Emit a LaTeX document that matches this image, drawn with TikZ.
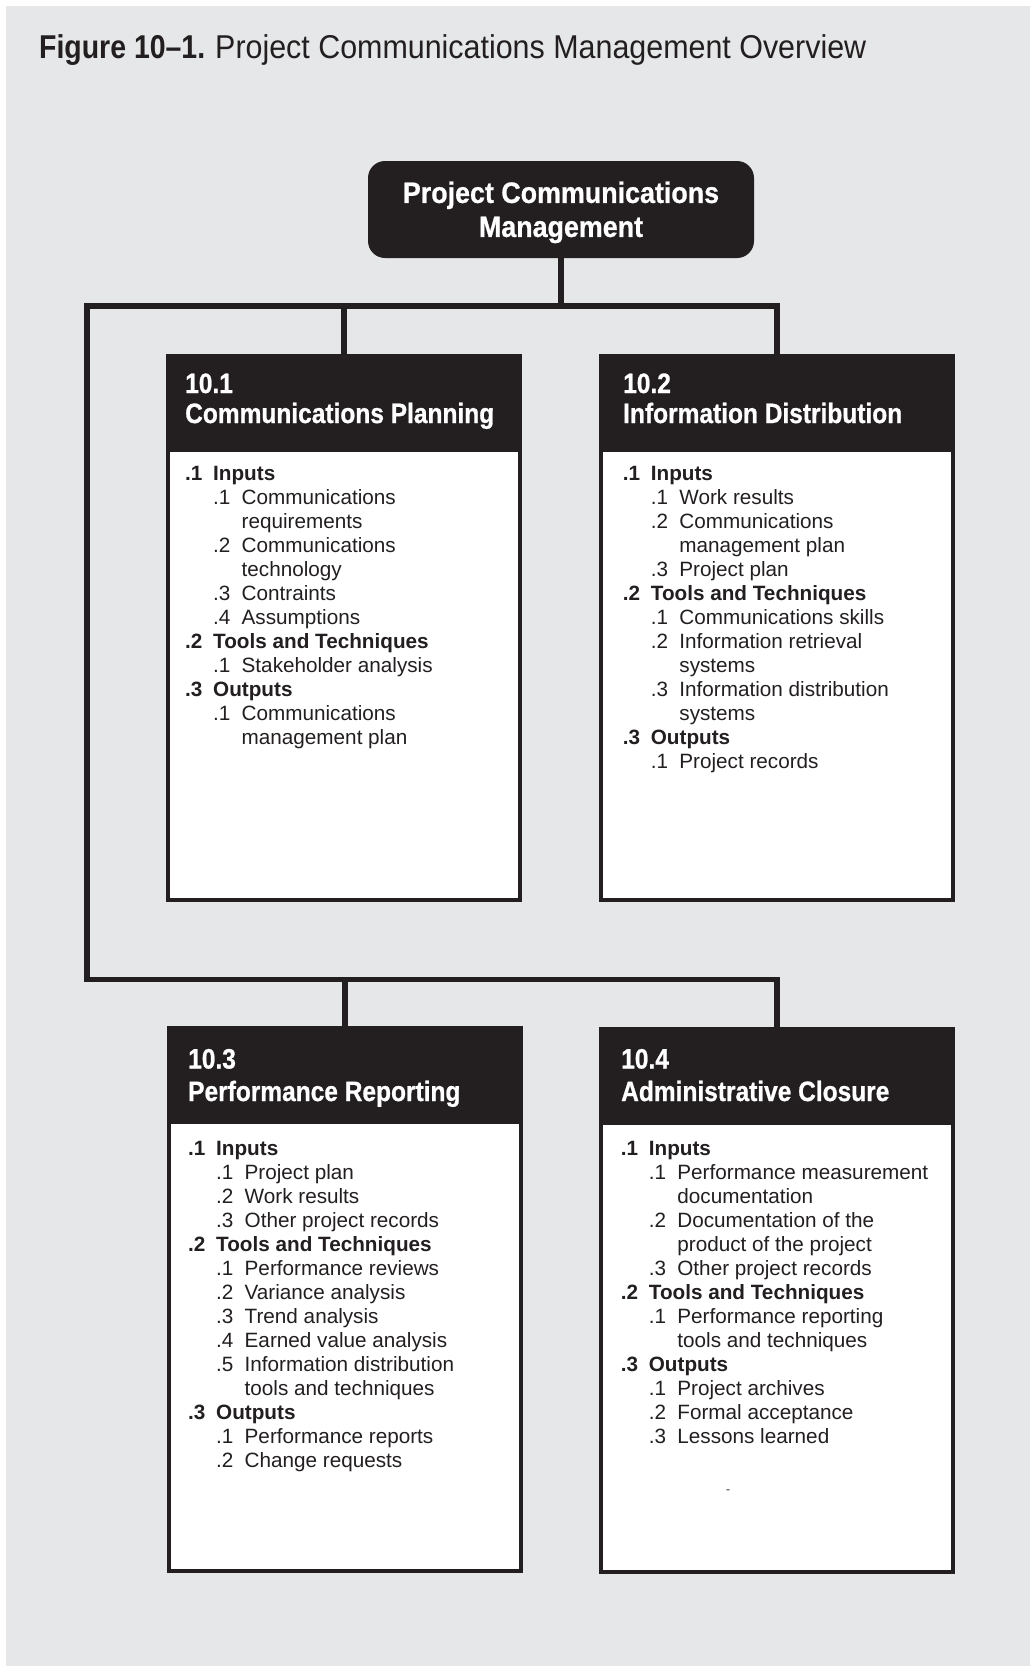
\documentclass[tikz,border=0pt]{standalone}
\usepackage{fontspec}
\setmainfont{Liberation Sans}
\newfontfamily\headfont[FakeStretch=0.875,FakeBold=0.8]{Liberation Sans}
\newfontfamily\topfont[FakeStretch=0.91,FakeBold=0.8]{Liberation Sans}
\newfontfamily\titlebold[FakeStretch=0.862]{Liberation Sans}
\newfontfamily\titlereg[FakeStretch=0.922]{Liberation Sans}
\definecolor{ink}{HTML}{231F20}
\definecolor{bg}{HTML}{E6E7E8}
\newcommand\lvlA[2]{\makebox[28pt][l]{\bfseries #1}{\bfseries #2}\par}
\newcommand\lvlB[2]{\hspace*{28pt}\makebox[28.5pt][l]{#1}#2\par}
\newcommand\lvlC[1]{\hspace*{56.5pt}#1\par}
\tikzset{
  conn/.style={draw=ink, line width=5.5pt, line join=miter},
  topbox/.style={rounded corners=17pt, fill=ink, minimum width=386pt, minimum height=97pt,
     inner sep=0pt, text=white, align=center,
     font=\topfont\bfseries\fontsize{29.5}{34}\selectfont},
  box/.style={draw=ink, line width=4pt, fill=white, anchor=north west,
     minimum width=352pt, inner sep=0pt,
     path picture={\fill[ink] ([yshift=4pt]path picture bounding box.north west) rectangle
        ([yshift=-96pt]path picture bounding box.north east);}},
  head/.style={anchor=base west, inner sep=0pt, text=white,
     font=\headfont\bfseries\fontsize{28}{30}\selectfont},
  body/.style={anchor=base west, inner sep=0pt, text=ink,
     font=\fontsize{20.7}{24}\selectfont},
}
\begin{document}
\begin{tikzpicture}[x=1pt,y=-1pt]
\useasboundingbox (0,0) rectangle (1030,1666);
\fill[white] (0,0) rectangle (1030,1666);
\fill[bg] (6,6) rectangle (1030,1666);

\node[anchor=base west, inner sep=0pt, text=ink] (title) at (39,58)
  {{\titlebold\bfseries\fontsize{33}{36}\selectfont Figure 10–1.}\hspace{10pt}{\titlereg\fontsize{33}{36}\selectfont Project Communications Management Overview}};

\node[topbox] (top) at (561,209.5) {\rule{0pt}{27.1pt}Project Communications\\Management};

\node[box, minimum height=544pt] (b1) at (166,354) {};
\node[box, minimum height=544pt] (b2) at (599,354) {};
\node[box, minimum height=543pt] (b3) at (167,1026) {};
\node[box, minimum height=543pt] (b4) at (599,1027) {};

\coordinate (jl) at (87,306);
\coordinate (kl) at (87,979.5);
\draw[conn] (top.south) -- (top.south |- jl);
\draw[conn] (b2.north) |- (jl) -- (kl) -| (b4.north);
\draw[conn] (b1.north) -- (b1.north |- jl);
\draw[conn] (b3.north) -- (b3.north |- kl);

\node[head] (h1) at (185,393) {\parbox[t]{330pt}{10.1\par Communications Planning}};
\node[head] (h2) at (623,393) {\parbox[t]{330pt}{10.2\par Information Distribution}};
\node[head] (h3) at (188,1068.5) {\parbox[t]{330pt}{\fontsize{28}{32.5}\selectfont 10.3\par Performance Reporting}};
\node[head] (h4) at (621,1068.5) {\parbox[t]{330pt}{\fontsize{28}{32.5}\selectfont 10.4\par Administrative Closure}};

\node[body] (t1) at (185,480) {\parbox[t]{330pt}{%
\lvlA{.1}{Inputs}
\lvlB{.1}{Communications}
\lvlC{requirements}
\lvlB{.2}{Communications}
\lvlC{technology}
\lvlB{.3}{Contraints}
\lvlB{.4}{Assumptions}
\lvlA{.2}{Tools and Techniques}
\lvlB{.1}{Stakeholder analysis}
\lvlA{.3}{Outputs}
\lvlB{.1}{Communications}
\lvlC{management plan}}};

\node[body] (t2) at (622.7,480) {\parbox[t]{330pt}{%
\lvlA{.1}{Inputs}
\lvlB{.1}{Work results}
\lvlB{.2}{Communications}
\lvlC{management plan}
\lvlB{.3}{Project plan}
\lvlA{.2}{Tools and Techniques}
\lvlB{.1}{Communications skills}
\lvlB{.2}{Information retrieval}
\lvlC{systems}
\lvlB{.3}{Information distribution}
\lvlC{systems}
\lvlA{.3}{Outputs}
\lvlB{.1}{Project records}}};

\node[body] (t3) at (188,1155) {\parbox[t]{330pt}{%
\lvlA{.1}{Inputs}
\lvlB{.1}{Project plan}
\lvlB{.2}{Work results}
\lvlB{.3}{Other project records}
\lvlA{.2}{Tools and Techniques}
\lvlB{.1}{Performance reviews}
\lvlB{.2}{Variance analysis}
\lvlB{.3}{Trend analysis}
\lvlB{.4}{Earned value analysis}
\lvlB{.5}{Information distribution}
\lvlC{tools and techniques}
\lvlA{.3}{Outputs}
\lvlB{.1}{Performance reports}
\lvlB{.2}{Change requests}}};

\node[body] (t4) at (620.7,1155) {\parbox[t]{330pt}{%
\lvlA{.1}{Inputs}
\lvlB{.1}{Performance measurement}
\lvlC{documentation}
\lvlB{.2}{Documentation of the}
\lvlC{product of the project}
\lvlB{.3}{Other project records}
\lvlA{.2}{Tools and Techniques}
\lvlB{.1}{Performance reporting}
\lvlC{tools and techniques}
\lvlA{.3}{Outputs}
\lvlB{.1}{Project archives}
\lvlB{.2}{Formal acceptance}
\lvlB{.3}{Lessons learned}}};

\node[inner sep=0pt, text=ink, font=\fontsize{12}{12}\selectfont] (dash) at (728,1492) {-};
\end{tikzpicture}
\end{document}
